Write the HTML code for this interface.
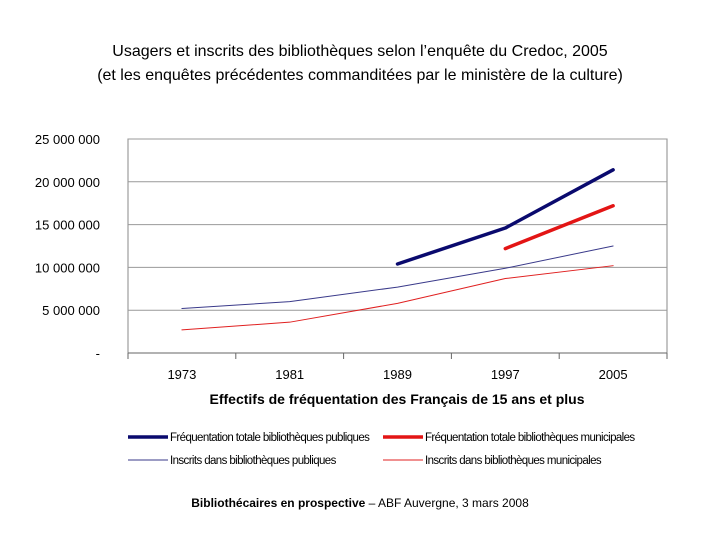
<!DOCTYPE html>
<html><head><meta charset="utf-8"><style>
body{margin:0;background:#fff;width:720px;height:540px;overflow:hidden;font-family:"Liberation Sans",sans-serif}
</style></head><body>
<svg width="720" height="540" id="svg" font-family="Liberation Sans, sans-serif">
<text x="360" y="56" text-anchor="middle" font-size="16">Usagers et inscrits des bibliothèques selon l’enquête du Credoc, 2005</text>
<text x="360" y="80" text-anchor="middle" font-size="16">(et les enquêtes précédentes commanditées par le ministère de la culture)</text>
<g id="grid"></g><g id="ax"></g><g id="series"></g>
<text x="397" y="404" text-anchor="middle" font-size="14" font-weight="bold">Effectifs de fréquentation des Français de 15 ans et plus</text>
<g id="legend" font-size="11.5" letter-spacing="-0.6"></g>
<text x="360" y="507" text-anchor="middle" font-size="12"><tspan font-weight="bold">Bibliothécaires en prospective</tspan> – ABF Auvergne, 3 mars 2008</text>
</svg>
<script>
const categories=["1973","1981","1989","1997","2005"];
const yTicks=[0,5000000,10000000,15000000,20000000,25000000];
const yTickLabels=["-","5 000 000","10 000 000","15 000 000","20 000 000","25 000 000"];
const freqPub=[null,null,10400000,14600000,21400000];
const freqMun=[null,null,null,12200000,17200000];
const inscPub=[5200000,6000000,7700000,9900000,12500000];
const inscMun=[2700000,3600000,5800000,8700000,10200000];
const L=128,R=667,T=139,B=353,NS="http://www.w3.org/2000/svg";
const bw=(R-L)/categories.length;
const xs=i=>L+bw*(i+0.5);
const ys=v=>B-(v/25000000)*(B-T);
function mk(tag,attrs,parent){const e=document.createElementNS(NS,tag);for(const k in attrs)e.setAttribute(k,attrs[k]);document.getElementById(parent).appendChild(e);return e;}
mk("rect",{x:L,y:T,width:R-L,height:B-T,fill:"none",stroke:"#888","stroke-width":1},"grid");
yTicks.forEach((v,i)=>{
 if(v>0){const g=mk("line",{x1:L,x2:R,y1:ys(v),y2:ys(v),stroke:"#999","stroke-width":1},"grid");
 
 }
 const t=mk("text",{x:100,y:ys(v)+5,"text-anchor":"end","font-size":13},"ax");t.textContent=yTickLabels[i];
 
 
});
mk("line",{x1:L,x2:R,y1:B,y2:B,stroke:"#666"},"ax");
for(let i=0;i<=categories.length;i++){mk("line",{x1:L+bw*i,x2:L+bw*i,y1:B,y2:B+6,stroke:"#666"},"ax");}
categories.forEach((c,i)=>{const t=mk("text",{x:xs(i),y:379,"text-anchor":"middle","font-size":13},"ax");t.textContent=c;
 
 });
const defs=[[inscMun,"#e02020",1,"inscrits-municipales-line"],[inscPub,"#3a3a8a",1,"inscrits-publiques-line"],[freqMun,"#e31515",3.5,"frequentation-municipales-line"],[freqPub,"#0a0a6e",3.5,"frequentation-publiques-line"]];
defs.forEach(([arr,col,w,name])=>{
 const pts=[];arr.forEach((v,i)=>{if(v!=null)pts.push(xs(i)+","+ys(v));});
 const p=mk("polyline",{points:pts.join(" "),fill:"none",stroke:col,"stroke-width":w,"stroke-linecap":"round","stroke-linejoin":"round"},"series");
 
 
});
const leg=[[128,437,"#0a0a6e",3.5,"Fréquentation totale bibliothèques publiques"],[383,437,"#e31515",3.5,"Fréquentation totale bibliothèques municipales"],[128,460,"#3a3a8a",1,"Inscrits dans bibliothèques publiques"],[383,460,"#e02020",1,"Inscrits dans bibliothèques municipales"]];
leg.forEach(([x,y,c,w,txt])=>{
 mk("line",{x1:x,x2:x+40,y1:y,y2:y,stroke:c,"stroke-width":w},"legend");
 const t=mk("text",{x:x+42,y:y+4},"legend");t.textContent=txt;
 
 
});
</script>
</body></html>
